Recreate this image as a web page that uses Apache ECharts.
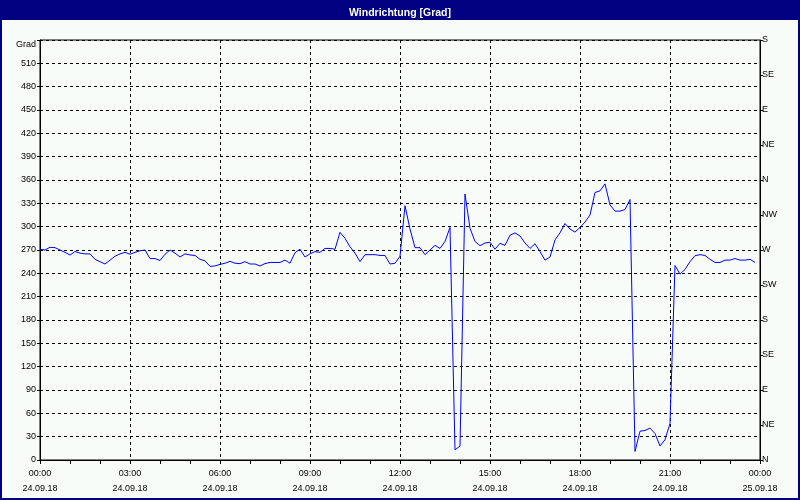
<!DOCTYPE html>
<html>
<head>
<meta charset="utf-8">
<script src="https://cdn.jsdelivr.net/npm/echarts@6/dist/echarts.min.js"></script>
<style>
html,body{margin:0;padding:0;background:#f8fcf8;}
#chart{width:800px;height:500px;}
</style>
</head>
<body>
<div id="chart"></div>
<script>
// Wind direction every 10 minutes, 24.09.18 00:00 .. 23:50
const stepMinutes = 10;
const windDir = [
 271,270,273.5,273,270,267,263.5,268,266,265,
 265,258,255,252,257,262,265,267,264.5,267,
 269,270,259,259,256.5,264.5,270,266,261,265,
 263.6,263,258,256,249,249.5,251.5,253,255.4,253,
 252.5,255,252,252,249.5,252.5,254,254,254,257,
 253,266.6,271,261,265,268,267,272,272,271,
 292.7,285,274,266,255,264,264,264,263,263,
 252,253,262,327,297,273,273,264,270,276,
 272,281,299,13,18,342,298,281,275.5,279,
 280,271,278.6,276,289,292,288,279,272,278,
 268,257,261,283,292,304,297,293,299,306,
 315,344,346,355,328,320,320,322,335,11,
 37,38,41,34,18,26,47,250,239,245,
 255,262.7,264,263,258,254,254,257,257,259,
 257,257,258,254
];
const timeLabels = ['00:00','03:00','06:00','09:00','12:00','15:00','18:00','21:00','00:00'];
const dateLabels = ['24.09.18','24.09.18','24.09.18','24.09.18','24.09.18','24.09.18','24.09.18','24.09.18','25.09.18'];
const compassLabels = ['N','NE','E','SE','S','SW','W','NW','N','NE','E','SE','S'];
const titleText = 'Windrichtung [Grad]';
const yUnit = 'Grad';

const seriesData = windDir.map((v, i) => [i * stepMinutes, v]);
const font = 'Liberation Sans';

const chart = echarts.init(document.getElementById('chart'), null, {renderer: 'canvas'});
chart.setOption({
  animation: false,
  backgroundColor: '#f8fcf8',
  title: {
    text: titleText, left: 'center', top: 3,
    textStyle: {color: '#ffffff', fontSize: 10.5, fontWeight: 'bold', fontFamily: font}
  },
  graphic: [
    {type: 'rect', z: -10, shape: {x: 0, y: 0, width: 800, height: 20}, style: {fill: '#000080'}},
    {type: 'rect', z: 100, shape: {x: 1, y: 1, width: 798, height: 498}, style: {fill: 'none', stroke: '#000080', lineWidth: 2}}
  ],
  grid: {left: 40, right: 40, top: 40, bottom: 40, show: true, borderColor: '#000', borderWidth: 1, backgroundColor: 'transparent'},
  xAxis: {
    type: 'value', min: 0, max: 1440, interval: 180,
    axisLine: {show: true, lineStyle: {color: '#000', width: 1}},
    axisTick: {show: true, length: 4, lineStyle: {color: '#000'}},
    minorTick: {show: true, splitNumber: 3, length: 4, lineStyle: {color: '#000'}},
    splitLine: {show: true, lineStyle: {color: '#000', type: [3, 3], width: 1}},
    axisLabel: {
      margin: 6, color: '#000', fontSize: 9, fontFamily: font, lineHeight: 15,
      showMinLabel: true, showMaxLabel: true,
      formatter: function (v) { const k = Math.round(v / 180); return timeLabels[k] + '\n' + dateLabels[k]; }
    }
  },
  yAxis: [
    {
      type: 'value', min: 0, max: 540, interval: 30, position: 'left',
      axisLine: {show: true, lineStyle: {color: '#000'}},
      axisTick: {show: true, length: 3, lineStyle: {color: '#000'}},
      splitLine: {show: true, lineStyle: {color: '#000', type: [3, 3], width: 1}},
      axisLabel: {
        margin: 4, color: '#000', fontSize: 9, fontFamily: font,
        formatter: function (v) { return v === 540 ? '{u|' + yUnit + '}' : String(v); },
        rich: {u: {fontSize: 9, fontFamily: font, color: '#000', padding: [9, 0, 0, 0]}}
      }
    },
    {
      type: 'value', min: 0, max: 540, interval: 45, position: 'right',
      axisLine: {show: true, lineStyle: {color: '#000'}},
      axisTick: {show: true, length: 3, lineStyle: {color: '#000'}},
      splitLine: {show: false},
      axisLabel: {
        margin: 2, color: '#000', fontSize: 9, fontFamily: font,
        formatter: function (v) { return compassLabels[Math.round(v / 45)]; }
      }
    }
  ],
  series: [{
    type: 'line', data: seriesData, yAxisIndex: 0,
    showSymbol: false, symbol: 'none',
    lineStyle: {color: '#0000ff', width: 1},
    itemStyle: {color: '#0000ff'}
  }]
});
</script>
</body>
</html>
